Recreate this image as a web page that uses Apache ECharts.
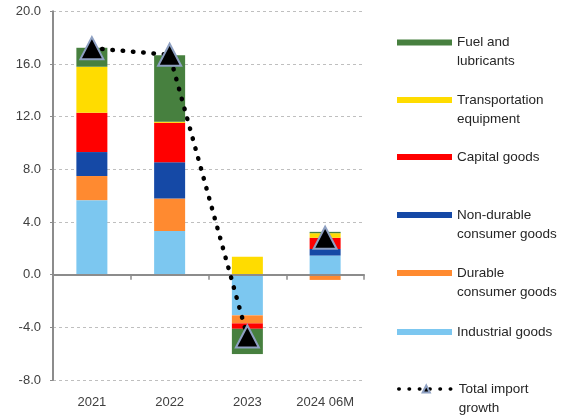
<!DOCTYPE html>
<html><head><meta charset="utf-8">
<script src="https://cdn.jsdelivr.net/npm/echarts@6/dist/echarts.min.js"></script>
<style>html,body{margin:0;padding:0;background:#fff}#c{width:561px;height:417px}</style>
</head><body><div id="c"></div>
<script>
// ---- data ----
const categories = ['2021', '2022', '2023', '2024 06M'];
const industrialGoods = [5.66, 3.31, -3.09, 1.45];
const durableConsumerGoods = [1.83, 2.48, -0.61, -0.4];
const nonDurableConsumerGoods = [1.82, 2.74, 0, 0.5];
const capitalGoods = [2.98, 3.0, -0.41, 0.85];
const transportationEquipment = [3.5, 0.08, 1.36, 0.35];
const fuelAndLubricants = [1.44, 5.06, -1.92, 0.1];
const totalImportGrowth = [17.2, 16.7, -4.7, 2.8];
const yMin = -8, yMax = 20, yStep = 4;

const barNames = ['Industrial goods', 'Durable consumer goods', 'Non-durable consumer goods', 'Capital goods', 'Transportation equipment', 'Fuel and lubricants'];
const barData = [industrialGoods, durableConsumerGoods, nonDurableConsumerGoods, capitalGoods, transportationEquipment, fuelAndLubricants];
const barColors = ['#7cc7f0', '#ff8a30', '#1549a6', '#ff0000', '#ffdc00', '#47803f'];
const totalName = 'Total import growth';
const legendLabels = {
  'Fuel and lubricants': '\nFuel and\nlubricants',
  'Transportation equipment': '\nTransportation\nequipment',
  'Capital goods': 'Capital goods',
  'Non-durable consumer goods': '\nNon-durable\nconsumer goods',
  'Durable consumer goods': '\nDurable\nconsumer goods',
  'Industrial goods': 'Industrial goods',
  'Total import growth': '\nTotal import\ngrowth'
};
// ---- layout ----
const FONT = 'Liberation Sans';
const legendCenters = [
  ['Fuel and lubricants', 42.5], ['Transportation equipment', 100], ['Capital goods', 157],
  ['Non-durable consumer goods', 215], ['Durable consumer goods', 273], ['Industrial goods', 332],
  ['Total import growth', 389]
];
const LH = 19;
const legends = legendCenters.map(([name, c]) => {
  const lines = legendLabels[name].split('\n').length;
  const isTotal = name === totalName;
  const ih = isTotal ? 9 : 6;
  const h = Math.max(lines * LH, ih);
  const l = {
    data: [name], left: 397, top: c - h / 2, padding: 0, orient: 'vertical',
    itemWidth: 55, itemHeight: ih,
    formatter: () => legendLabels[name],
    textStyle: { fontFamily: FONT, fontSize: 13.5, color: '#262626', lineHeight: LH }
  };
  if (!isTotal) l.icon = 'rect';
  else l.lineStyle = { width: 3.5 };
  return l;
});

const series = barNames.map((n, i) => ({
  name: n, type: 'bar', stack: 'imp', barWidth: 31,
  itemStyle: { color: barColors[i] },
  data: barData[i]
}));
const lineStyle = { color: '#000', width: 4.5, type: [0.5, 9.8], cap: 'round' };
const symbolStyle = { color: '#000', borderColor: '#8ea0c2', borderWidth: 2 };
series.push({
  name: totalName, type: 'line', z: 5, symbol: 'triangle', symbolSize: [23, 22], showAllSymbol: true,
  lineStyle: lineStyle, itemStyle: symbolStyle,
  data: totalImportGrowth.map((v, i) => i < 3 ? v : null)
});
series.push({
  name: totalName, type: 'line', z: 5, symbol: 'triangle', symbolSize: [23, 22], showAllSymbol: true,
  lineStyle: lineStyle, itemStyle: symbolStyle,
  data: totalImportGrowth.map((v, i) => i === 3 ? v : null)
});

const chart = echarts.init(document.getElementById('c'), null, { renderer: 'canvas' });
chart.setOption({
  animation: false,
  backgroundColor: '#fff',
  grid: { left: 53, right: 197, top: 11.3, bottom: 37, containLabel: false, outerBoundsMode: 'none' },
  legend: legends,
  xAxis: [{
    type: 'category', data: categories, position: 'bottom',
    axisLine: { show: false, onZero: false },
    axisTick: { show: false },
    axisLabel: { margin: 16, fontFamily: FONT, fontSize: 13, color: '#404040' },
    splitLine: { show: false }
  }, {
    type: 'category', data: categories, position: 'top', z: 3,
    axisLine: { show: true, onZero: true, lineStyle: { color: '#8c8c8c', width: 2 } },
    axisTick: { show: true, inside: true, length: 5, lineStyle: { color: '#8c8c8c', width: 1.5 } },
    axisLabel: { show: false },
    splitLine: { show: false }
  }],
  yAxis: {
    type: 'value', min: yMin, max: yMax, interval: yStep,
    axisLine: { show: true, lineStyle: { color: '#8c8c8c', width: 2 } },
    axisTick: { show: true, length: 3, lineStyle: { color: '#8c8c8c' } },
    axisLabel: { margin: 12, fontFamily: FONT, fontSize: 13, color: '#404040', formatter: v => v.toFixed(1) },
    splitLine: { show: true, lineStyle: { color: '#bfbfbf', width: 1, type: [3, 3] } }
  },
  series: series
});
</script>
</body></html>
